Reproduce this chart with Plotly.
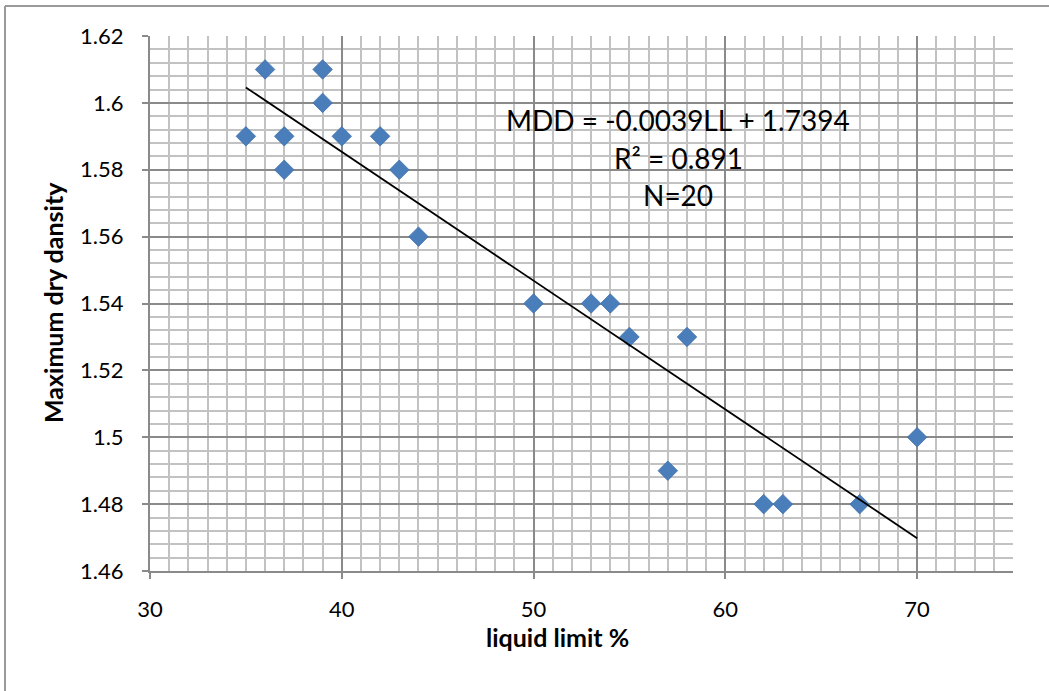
import numpy as np
import plotly.graph_objects as go

# ---- data ----
liquid_limit = [35, 36, 37, 37, 39, 39, 40, 42, 43, 44,
                50, 53, 54, 55, 58, 57, 62, 63, 67, 70]
max_dry_density = [1.59, 1.61, 1.59, 1.58, 1.61, 1.60, 1.59, 1.59, 1.58, 1.56,
                   1.54, 1.54, 1.54, 1.53, 1.53, 1.49, 1.48, 1.48, 1.48, 1.50]
y_tick_vals = [1.46, 1.48, 1.50, 1.52, 1.54, 1.56, 1.58, 1.60, 1.62]
y_tick_text = ["1.46", "1.48", "1.5", "1.52", "1.54", "1.56", "1.58", "1.6", "1.62"]
x_tick_vals = [30, 40, 50, 60, 70]
x_tick_text = ["30", "40", "50", "60", "70"]
eq_lines = ["MDD = -0.0039LL + 1.7394", "R² = 0.891", "N=20"]

# trendline (least squares)
slope, intercept = np.polyfit(liquid_limit, max_dry_density, 1)
x_fit = np.array([min(liquid_limit), max(liquid_limit)])
y_fit = slope * x_fit + intercept

W, H = 1049, 691
L, R, T, B = 150, 1013, 36, 571
pw, ph = R - L, B - T

def px(x):
    return (x - L) / pw

def py(y):
    return (B - y) / ph

FONT = "Lato, Carlito, Calibri, sans-serif"
MAJOR = "#8a8a8a"
MINOR = "#c2c2c2"

fig = go.Figure()
fig.add_trace(go.Scatter(
    x=liquid_limit, y=max_dry_density, mode="markers",
    marker=dict(symbol="diamond", size=15, color="#4a7ebb",
                line=dict(width=0.8, color="#3f6ea8")),
    showlegend=False, hoverinfo="x+y"))
fig.add_trace(go.Scatter(
    x=x_fit, y=y_fit, mode="lines",
    line=dict(color="black", width=1.8),
    showlegend=False, hoverinfo="skip"))

fig.update_xaxes(
    range=[30, 75], tickvals=x_tick_vals, ticktext=x_tick_text,
    showgrid=True, gridcolor=MAJOR, gridwidth=2,
    minor=dict(dtick=1, tick0=30, showgrid=True, gridcolor=MINOR, gridwidth=2),
    ticks="outside", ticklen=6, tickcolor=MAJOR, tickwidth=2,
    showline=True, linecolor=MAJOR, linewidth=2,
    zeroline=False, tickfont=dict(family=FONT, size=22, color="black"),
    ticklabelstandoff=12)
fig.update_yaxes(
    range=[1.46, 1.62], tickvals=y_tick_vals, ticktext=y_tick_text,
    showgrid=True, gridcolor=MAJOR, gridwidth=2,
    minor=dict(dtick=0.004, tick0=1.46, showgrid=True, gridcolor=MINOR, gridwidth=2),
    ticks="outside", ticklen=6, tickcolor=MAJOR, tickwidth=2,
    showline=True, linecolor=MAJOR, linewidth=2,
    zeroline=False, tickfont=dict(family=FONT, size=22, color="black"),
    ticklabelstandoff=14)

annotations = [
    dict(text="<b>liquid limit %</b>", x=px(557), y=py(637), xref="paper", yref="paper",
         showarrow=False, font=dict(family=FONT, size=25, color="black"),
         xanchor="center", yanchor="middle"),
    dict(text="<b>Maximum dry dansity</b>", x=px(53), y=py(303), xref="paper", yref="paper",
         showarrow=False, textangle=-90, font=dict(family=FONT, size=25, color="black"),
         xanchor="center", yanchor="middle"),
]
eq_y = [120, 158, 195]
for txt, yy in zip(eq_lines, eq_y):
    annotations.append(dict(text=txt, x=px(678), y=py(yy), xref="paper", yref="paper",
                            showarrow=False, font=dict(family=FONT, size=28, color="black"),
                            xanchor="center", yanchor="middle"))

shapes = [
    dict(type="line", xref="paper", yref="paper", x0=px(5), x1=px(W + 5), y0=py(6), y1=py(6),
         line=dict(color="#9a9a9a", width=2)),
    dict(type="line", xref="paper", yref="paper", x0=px(5), x1=px(5), y0=py(6), y1=py(H + 5),
         line=dict(color="#9a9a9a", width=2)),
]

fig.update_layout(
    width=W, height=H, autosize=False,
    margin=dict(l=L, r=W - R, t=T, b=H - B, pad=0),
    paper_bgcolor="white", plot_bgcolor="white",
    annotations=annotations, shapes=shapes,
    font=dict(family=FONT))

fig.write_html("out.html", config={"displayModeBar": False})
